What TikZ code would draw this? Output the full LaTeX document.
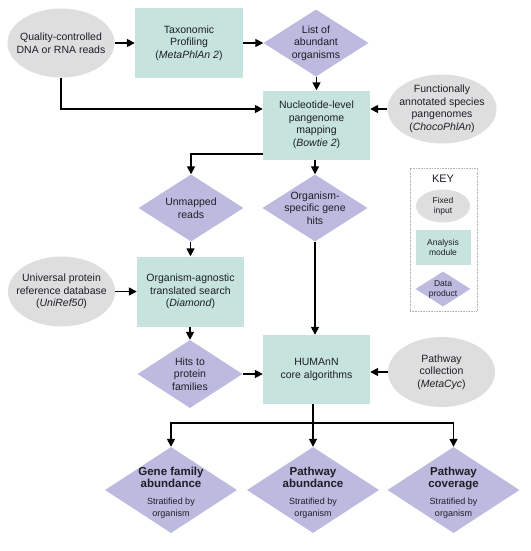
\documentclass[tikz,border=0pt]{standalone}
\usepackage{fontspec}
\setmainfont{Liberation Sans}
\usetikzlibrary{shapes.geometric,arrows.meta}
\definecolor{boxc}{RGB}{198,227,222}
\definecolor{diac}{RGB}{188,186,222}
\definecolor{ellc}{RGB}{222,222,222}
\definecolor{txt}{RGB}{30,30,40}
\newcommand{\bt}[1]{{\bfseries\fontsize{11.5}{13}\selectfont #1}}
\newcommand{\smt}[1]{{\fontsize{9}{10.5}\selectfont #1}}
\begin{document}
\begin{tikzpicture}[x=1pt,y=-1pt,
 every node/.style={text=txt, font=\fontsize{10.5}{12.5}\selectfont, align=center},
 modbox/.style={rectangle, fill=boxc, minimum width=107pt, minimum height=69pt, inner sep=0pt},
 dprod/.style={diamond, fill=diac, minimum width=105pt, minimum height=67pt, inner sep=-20pt},
 outdia/.style={diamond, fill=diac, minimum width=132pt, minimum height=86pt, inner sep=-25pt},
 fixin/.style={ellipse, fill=ellc, minimum width=107pt, minimum height=69pt, inner sep=-15pt},
 keyframe/.style={rectangle, draw=gray!60, densely dotted, line width=0.6pt, minimum width=67pt, minimum height=143pt},
 keyfont/.style={font=\fontsize{8.5}{10}\selectfont},
 arr/.style={-{Triangle[length=8pt,width=8pt]}, line width=1.6pt, black}]
\useasboundingbox (0,0) rectangle (530,551);

% top row
\node[fixin] (qc) at (61,43) {Quality-controlled\\DNA or RNA reads};
\node[modbox, minimum width=108pt, minimum height=70pt] (tax) at (189,43) {Taxonomic\\Profiling\\(\textit{MetaPhlAn 2})};
\node[dprod] (list) at (316,43) {List of\\abundant\\organisms};

% mapping
\node[modbox] (nuc) at (316.5,125) {Nucleotide-level\\pangenome\\mapping\\(\textit{Bowtie 2})};
\node[fixin, minimum width=109pt] (fu) at (442,109) {Functionally\\annotated species\\pangenomes\\(\textit{ChocoPhlAn})};

% middle
\node[dprod] (unm) at (191,208) {Unmapped\\reads};
\node[dprod] (org) at (315,208) {Organism-\\specific gene\\hits};
\node[modbox, minimum height=70pt] (agn) at (190.5,291.5) {Organism-agnostic\\translated search\\(\textit{Diamond})};
\node[fixin, minimum height=70pt] (uni) at (61.5,291.5) {Universal protein\\reference database\\(\textit{UniRef50})};
\node[dprod, minimum height=68pt] (hits) at (190,374) {Hits to\\protein\\families};
\node[modbox] (hum) at (316.5,369.5) {HUMAnN\\core algorithms};
\node[fixin, minimum height=70pt] (pc) at (441.5,372) {Pathway\\collection\\(\textit{MetaCyc})};

% outputs
\node[outdia] (gf) at (171,490) {\rule{0pt}{14pt}\bt{Gene family}\\\bt{abundance}\\[4pt]\smt{Stratified by}\\\smt{organism}};
\node[outdia] (pa) at (313,490) {\rule{0pt}{14pt}\bt{Pathway}\\\bt{abundance}\\[4pt]\smt{Stratified by}\\\smt{organism}};
\node[outdia] (pcov) at (453.5,490) {\rule{0pt}{14pt}\bt{Pathway}\\\bt{coverage}\\[4pt]\smt{Stratified by}\\\smt{organism}};

% key
\node[keyframe] (key) at (443.5,239.5) {};
\node (keyt) at (443,178.5) {\fontsize{11}{13}\selectfont KEY};
\node[fixin, keyfont, minimum width=54pt, minimum height=33pt, inner sep=-8pt] (k1) at (443,206) {Fixed\\input};
\node[modbox, keyfont, minimum width=55pt, minimum height=35pt] (k2) at (443,247.5) {Analysis\\module};
\node[dprod, keyfont, minimum width=55pt, minimum height=35pt, inner sep=-8pt] (k3) at (443,289) {Data\\product};

% connectors
\draw[arr] (qc) -- (tax);
\draw[arr] (tax) -- (list);
\draw[arr] (list.south -| nuc.north) -- (nuc.north);
\draw[arr] (qc.south) |- (nuc.west |- fu.west);
\draw[arr] (fu.west) -- (nuc.east |- fu.west);
\draw[arr] (nuc.south west) ++(0,-6) -| (unm.north);
\draw[arr] (nuc.south -| org.north) -- (org.north);
\draw[arr] (unm.south -| agn.north) -- (agn.north);
\draw[arr] (uni) -- (agn);
\draw[arr] (agn.south -| hits.north) -- (hits.north);
\draw[arr] (hits.east) -- (hum.west |- hits.east);
\draw[arr] (org.south) -- (hum.north -| org.south);
\draw[arr] (pc.west) -- (hum.east |- pc.west);
\coordinate (split) at (313,423);
\draw[arr] (hum.south -| pa.north) -- (pa.north);
\draw[arr] (split) -| (gf.north);
\draw[arr] (split) -| (pcov.north);
\end{tikzpicture}
\end{document}
